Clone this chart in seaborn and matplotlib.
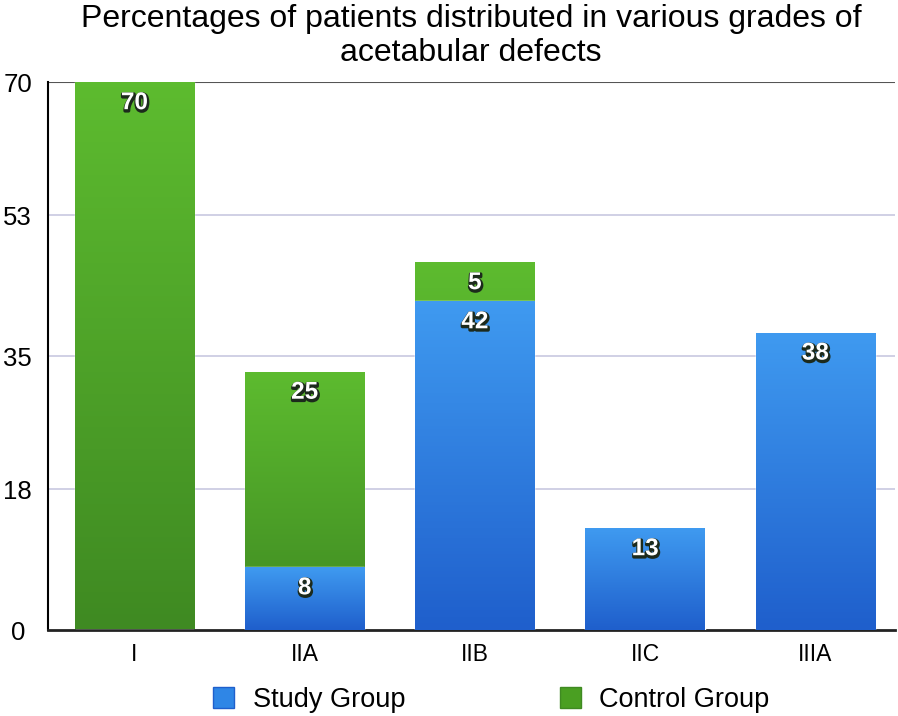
import numpy as np
import pandas as pd
import matplotlib
matplotlib.use("Agg")
import matplotlib.pyplot as plt
import matplotlib.patheffects as pe
from matplotlib.colors import LinearSegmentedColormap
from matplotlib.patches import Patch
import seaborn as sns

## Data
grades = ["I", "IIA", "IIB", "IIC", "IIIA"]
study_group = [0, 8, 42, 13, 38]
control_group = [70, 25, 5, 0, 0]
y_ticks = [0, 18, 35, 53, 70]

df = pd.DataFrame({"Grade": grades, "Study": study_group, "Control": control_group})
df["Total"] = df["Study"] + df["Control"]

sns.set_theme(style="white")
plt.rcParams["font.family"] = ["Liberation Sans", "DejaVu Sans"]

fig, ax = plt.subplots(figsize=(8.98, 7.16), dpi=100)
fig.subplots_adjust(left=0.053, right=0.997, top=0.885, bottom=0.12)

# total first (green), then study drawn over it (blue)
sns.barplot(data=df, x="Grade", y="Total", color="#4a9f22", width=0.70,
            saturation=1, ax=ax, zorder=2)
sns.barplot(data=df, x="Grade", y="Study", color="#2f86e6", width=0.70,
            saturation=1, ax=ax, zorder=3)

# gradient fill on each bar
green_cmap = LinearSegmentedColormap.from_list("g", ["#3f8a22", "#5dbb2f"])
blue_cmap = LinearSegmentedColormap.from_list("b", ["#1f5fcc", "#3f9af0"])
n = len(grades)
for i, p in enumerate(ax.patches):
    h = p.get_height()
    if h <= 0:
        continue
    x0, w = p.get_x(), p.get_width()
    y0 = p.get_y()
    cmap = green_cmap if i < n else blue_cmap
    grad = np.linspace(0, 1, 100).reshape(-1, 1)
    im = ax.imshow(grad, cmap=cmap, origin="lower", aspect="auto",
                   extent=[x0, x0 + w, y0, y0 + h], zorder=p.get_zorder() + 0.1)
    im.set_clip_path(p)

# value labels, white with a dark shadow
shadow = [pe.Stroke(linewidth=2.5, foreground="#1c2a1c", offset=(0.5, -1.2)), pe.Normal()]
for i in range(n):
    s = study_group[i]
    c = control_group[i]
    if s > 0:
        ax.text(i, s - 2.6, str(s), ha="center", va="center", color="white",
                fontsize=17.5, fontweight="bold", zorder=6, path_effects=shadow)
    if c > 0:
        ax.text(i, s + c - 2.6, str(c), ha="center", va="center", color="white",
                fontsize=17.5, fontweight="bold", zorder=6, path_effects=shadow)

ax.set_xlim(-0.51, 4.47)
ax.set_ylim(0, 70)
ax.set_yticks(y_ticks)
ax.set_yticklabels([str(t) for t in y_ticks], fontsize=18.5, color="black", ha="center")
ax.tick_params(axis="x", labelsize=16.5, labelcolor="black", length=0, pad=9)
ax.tick_params(axis="y", length=0, pad=21.5)
ax.set_xlabel("")
ax.set_ylabel("")

for t in y_ticks[1:-1]:
    ax.axhline(t, color="#c8c8e0", linewidth=1.2, zorder=1)
ax.axhline(70, color="#555555", linewidth=1.5, zorder=1)

for side in ["top", "right"]:
    ax.spines[side].set_visible(False)
ax.spines["left"].set_color("black")
ax.spines["left"].set_linewidth(1.5)
ax.spines["bottom"].set_color("#222222")
ax.spines["bottom"].set_linewidth(2)

fig.suptitle("Percentages of patients distributed in various grades of\nacetabular defects",
             x=0.5245, y=0.994, fontsize=23, color="black", linespacing=1.15, va="top")

handles = [Patch(facecolor="#2f86e6", edgecolor="#1f5fcc"),
           Patch(facecolor="#4a9f22", edgecolor="#3f8a22")]
fig.legend(handles, ["Study Group", "Control Group"], loc="center",
           bbox_to_anchor=(0.547, 0.022), ncol=2, frameon=False, fontsize=19.5,
           columnspacing=5.7, handlelength=0.8, handleheight=0.8, handletextpad=0.67,
           labelcolor="black")

fig.savefig("out.png", dpi=100)
